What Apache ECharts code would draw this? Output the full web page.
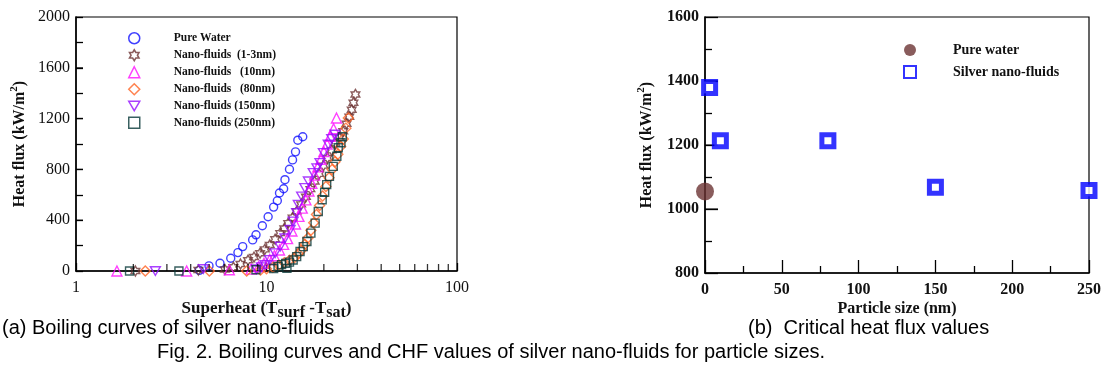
<!DOCTYPE html>
<html>
<head>
<meta charset="utf-8">
<script src="https://cdn.jsdelivr.net/npm/echarts@6/dist/echarts.min.js"></script>
<style>
  html, body { margin: 0; padding: 0; background: #fff; }
  #chart { width: 1101px; height: 380px; }
</style>
</head>
<body>
<div id="chart"></div>
<script>
// (a) boiling curves: superheat (x, log) vs heat flux (y)
var waterX = [4.44, 4.99, 5.70, 6.49, 7.08, 7.50, 8.46, 8.81, 9.51, 10.2, 10.9, 11.4, 11.7, 12.3, 12.5, 13.2, 13.7, 14.2, 14.6, 15.5];
var waterY = [5, 40, 61, 100, 145, 192, 245, 285, 356, 427, 503, 553, 614, 648, 719, 801, 875, 938, 1030, 1057];

var nf13X = [2.05, 4.39, 6.05, 6.7, 7.3, 8.0, 8.6, 9.25, 9.8, 10.4, 11.1, 11.8, 12.4, 13.0, 13.7, 14.4, 15.2, 16.1, 17.0, 17.9, 18.9, 19.9, 20.9, 22.0, 23.0, 24.1, 25.3, 26.3, 27.2, 28.0, 28.6, 29.3];
var nf13Y = [0, 8, 12, 30, 55, 85, 110, 140, 170, 205, 250, 298, 335, 377, 420, 470, 525, 585, 645, 705, 765, 830, 890, 950, 1005, 1050, 1100, 1160, 1215, 1270, 1325, 1390];

var nf10X = [1.64, 3.81, 6.38, 8.3, 9.1, 9.7, 10.4, 11.0, 11.7, 12.3, 12.9, 13.6, 14.2, 14.8, 15.4, 16.1, 16.7, 17.3, 17.9, 18.6, 19.3, 20.0, 20.8, 21.6, 22.5, 23.3];
var nf10Y = [0, 0, 10, 15, 35, 60, 90, 120, 165, 210, 255, 315, 370, 430, 495, 560, 630, 690, 755, 820, 880, 940, 1000, 1060, 1120, 1205];

var nf80X = [2.31, 5.01, 7.87, 9.3, 10.0, 10.8, 11.6, 12.4, 13.2, 14.0, 14.7, 15.3, 15.9, 16.5, 17.1, 17.7, 18.3, 19.0, 19.7, 20.5, 21.3, 22.1, 22.9, 23.7, 24.5, 25.3, 26.1, 26.9];
var nf80Y = [0, 0, 0, 8, 18, 30, 45, 65, 85, 105, 135, 165, 210, 260, 320, 380, 445, 515, 590, 665, 735, 800, 860, 920, 980, 1040, 1125, 1205];

var nf150X = [2.61, 4.66, 8.89, 9.4, 9.83, 10.4, 11.1, 11.8, 12.5, 13.3, 13.8, 14.4, 14.7, 15.3, 15.9, 16.6, 17.6, 18.4, 19.1, 19.9, 21.1, 22.0, 22.9];
var nf150Y = [0, 15, 13, 30, 47, 87, 140, 192, 258, 324, 390, 456, 522, 587, 654, 706, 772, 810, 851, 930, 996, 1040, 1075];

var nf250X = [1.91, 3.47, 8.81, 10.9, 11.5, 12.0, 12.8, 12.6, 13.2, 13.8, 14.4, 15.0, 15.6, 16.3, 17.1, 18.0, 18.7, 19.6, 20.2, 20.7, 21.4, 22.4, 23.4, 23.8, 24.6, 25.0];
var nf250Y = [0, 0, 10, 20, 35, 50, 21, 60, 70, 87, 113, 153, 192, 232, 298, 377, 469, 561, 620, 680, 745, 824, 903, 970, 1010, 1057];

// tick positions drawn as small marks (log minor ticks, y major ticks)
var logMinorTicks = [2, 3, 4, 5, 6, 7, 8, 9, 20, 30, 40, 50, 60, 70, 80, 90];
var fluxTicksA = [400, 800, 1200, 1600];
var fluxTicksB = [1000, 1200, 1400];

// (b) critical heat flux vs particle size
var waterSize = [0];
var waterChf = [1055];
var particleSize = [3, 10, 80, 150, 250];
var nanoChf = [1380, 1213, 1213, 1068, 1058];

var names = [
  "Pure Water",
  "Nano-fluids  (1-3nm)",
  "Nano-fluids   (10nm)",
  "Nano-fluids   (80nm)",
  "Nano-fluids (150nm)",
  "Nano-fluids (250nm)"
];

function pairs(xs, ys) {
  return xs.map(function(x, i) { return [x, ys[i]]; });
}

var serif = "Liberation Serif";
var starPath = "path://M0,-10L2.887,-5L8.66,-5L5.77,0L8.66,5L2.887,5L0,10L-2.887,5L-8.66,5L-5.77,0L-8.66,-5L-2.887,-5Z";
var downTriangle = "path://M-5,-4.3L5,-4.3L0,4.3Z";

function hollow(name, data, symbol, color, size) {
  return {
    name: name,
    type: "scatter",
    xAxisIndex: 0,
    yAxisIndex: 0,
    data: data,
    symbol: symbol,
    symbolSize: size,
    symbolKeepAspect: true,
    clip: false,
    itemStyle: { color: "rgba(255,255,255,0)", borderColor: color, borderWidth: 1.4 },
    emphasis: { disabled: true }
  };
}

// small black marks used as ticks
function marks(axisIdx, data, size, offset) {
  return {
    type: "scatter",
    xAxisIndex: axisIdx,
    yAxisIndex: axisIdx,
    silent: true,
    clip: false,
    data: data,
    symbol: "rect",
    symbolSize: size,
    symbolOffset: offset,
    itemStyle: { color: "#000" },
    z: 5
  };
}

function plain(v) { return String(v); }

function tick(len) {
  return { show: true, inside: true, length: len, lineStyle: { color: "#000", width: 1.3 } };
}
function minor(len) {
  return { show: true, splitNumber: 2, length: len, lineStyle: { color: "#000", width: 1.3 } };
}

var myChart = echarts.init(document.getElementById("chart"));
myChart.setOption({
  animation: false,
  grid: [
    { left: 76, right: 644, top: 17, bottom: 109, show: true, borderColor: "#000", borderWidth: 1.2, outerBoundsMode: "none" },
    { left: 705, right: 12, top: 17, bottom: 107, show: true, borderColor: "#000", borderWidth: 1.2, outerBoundsMode: "none" }
  ],
  legend: [
    {
      data: names,
      orient: "vertical",
      left: 128,
      top: 32,
      padding: 0,
      itemWidth: 11,
      itemHeight: 11,
      itemGap: 4.5,
      selectedMode: false,
      itemStyle: { borderWidth: 1.5 },
      formatter: "{g| }{n|{name}}",
      textStyle: {
        rich: {
          g: { width: 29 },
          n: { fontFamily: serif, fontWeight: "bold", fontSize: 11.5, color: "#111" }
        }
      }
    },
    {
      data: ["Pure water", "Silver nano-fluids"],
      orient: "vertical",
      left: 903,
      top: 43,
      padding: 0,
      itemWidth: 12,
      itemHeight: 12,
      itemGap: 8,
      selectedMode: false,
      formatter: "{g| }{n|{name}}",
      textStyle: {
        rich: {
          g: { width: 32 },
          n: { fontFamily: serif, fontWeight: "bold", fontSize: 14, color: "#111" }
        }
      }
    }
  ],
  xAxis: [
    {
      gridIndex: 0,
      type: "log",
      logBase: 10,
      min: 1,
      max: 100,
      axisLine: { show: true, lineStyle: { color: "#000", width: 1.5 } },
      axisTick: tick(8),
      splitLine: { show: false },
      axisLabel: { fontFamily: serif, fontSize: 16, color: "#111", margin: 9, formatter: plain },
      name: "{b|Superheat (T}{s|surf}{b| -T}{s|sat}{b|)}",
      nameLocation: "middle",
      nameGap: 26,
      nameMoveOverlap: false,
      nameTextStyle: {
        rich: {
          b: { fontFamily: serif, fontWeight: "bold", fontSize: 17, color: "#111" },
          s: { fontFamily: serif, fontWeight: "bold", fontSize: 16, color: "#111", padding: [8, 0, 0, 0] }
        }
      }
    },
    {
      gridIndex: 1,
      type: "value",
      min: 0,
      max: 250,
      interval: 50,
      axisLine: { show: true, lineStyle: { color: "#000", width: 1.5 } },
      axisTick: tick(13),
      minorTick: minor(7),
      splitLine: { show: false },
      axisLabel: { fontFamily: serif, fontWeight: "bold", fontSize: 16, color: "#111", margin: 9, formatter: plain },
      name: "Particle size (nm)",
      nameLocation: "middle",
      nameGap: 28,
      nameMoveOverlap: false,
      nameTextStyle: { fontFamily: serif, fontWeight: "bold", fontSize: 16, color: "#111" }
    }
  ],
  yAxis: [
    {
      gridIndex: 0,
      type: "value",
      min: 0,
      max: 2000,
      interval: 400,
      axisLine: { show: true, lineStyle: { color: "#000", width: 1.5 } },
      axisTick: tick(7),
      minorTick: minor(7),
      splitLine: { show: false },
      axisLabel: { fontFamily: serif, fontSize: 16, color: "#111", margin: 6, formatter: plain },
      name: "{b|Heat flux (kW/m}{p|2}{b|)}",
      nameLocation: "middle",
      nameRotate: 90,
      nameGap: 46,
      nameMoveOverlap: false,
      nameTextStyle: {
        rich: {
          b: { fontFamily: serif, fontWeight: "bold", fontSize: 16, color: "#111" },
          p: { fontFamily: serif, fontWeight: "bold", fontSize: 11, color: "#111", padding: [0, 0, 10, 0] }
        }
      }
    },
    {
      gridIndex: 1,
      type: "value",
      min: 800,
      max: 1600,
      interval: 200,
      axisLine: { show: true, lineStyle: { color: "#000", width: 1.5 } },
      axisTick: tick(13),
      minorTick: minor(7),
      splitLine: { show: false },
      axisLabel: { fontFamily: serif, fontWeight: "bold", fontSize: 16, color: "#111", margin: 6, formatter: plain },
      name: "{b|Heat flux (kW/m}{p|2}{b|)}",
      nameLocation: "middle",
      nameRotate: 90,
      nameGap: 48,
      nameMoveOverlap: false,
      nameTextStyle: {
        rich: {
          b: { fontFamily: serif, fontWeight: "bold", fontSize: 16, color: "#111" },
          p: { fontFamily: serif, fontWeight: "bold", fontSize: 11, color: "#111", padding: [0, 0, 10, 0] }
        }
      }
    }
  ],
  series: [
    marks(0, logMinorTicks.map(function(v) { return [v, 0]; }), [1.3, 7], [0, -3.5]),
    marks(0, fluxTicksA.map(function(v) { return [1, v]; }), [7, 1.3], [3.5, 0]),
    marks(1, fluxTicksB.map(function(v) { return [0, v]; }), [13, 1.3], [6.5, 0]),
    hollow(names[0], pairs(waterX, waterY), "circle", "#1010ff", 8),
    hollow(names[1], pairs(nf13X, nf13Y), starPath, "#6e3535", 10),
    hollow(names[2], pairs(nf10X, nf10Y), "triangle", "#ff10ff", 10),
    hollow(names[3], pairs(nf80X, nf80Y), "diamond", "#ff6424", 10),
    hollow(names[4], pairs(nf150X, nf150Y), downTriangle, "#9410ff", 10),
    hollow(names[5], pairs(nf250X, nf250Y), "rect", "#083838", 8),
    {
      name: "Pure water",
      type: "scatter",
      xAxisIndex: 1,
      yAxisIndex: 1,
      clip: false,
      data: pairs(waterSize, waterChf),
      symbol: "circle",
      symbolSize: 18,
      itemStyle: { color: "#6b3333" },
      z: 6
    },
    {
      name: "Silver nano-fluids",
      type: "scatter",
      xAxisIndex: 1,
      yAxisIndex: 1,
      clip: false,
      data: pairs(particleSize, nanoChf),
      symbol: "rect",
      symbolSize: 12,
      itemStyle: { color: "#fff", borderColor: "#0000ff", borderWidth: 5 },
      z: 6
    }
  ],
  graphic: [
    { type: "text", left: 2, top: 318, style: { text: "(a) Boiling curves of silver nano-fluids", font: "20px 'Liberation Sans'", fill: "#000" } },
    { type: "text", left: 748, top: 318, style: { text: "(b)  Critical heat flux values", font: "20px 'Liberation Sans'", fill: "#000" } },
    { type: "text", left: 157, top: 342, style: { text: "Fig. 2. Boiling curves and CHF values of silver nano-fluids for particle sizes.", font: "20px 'Liberation Sans'", fill: "#000" } }
  ]
});
</script>
</body>
</html>
